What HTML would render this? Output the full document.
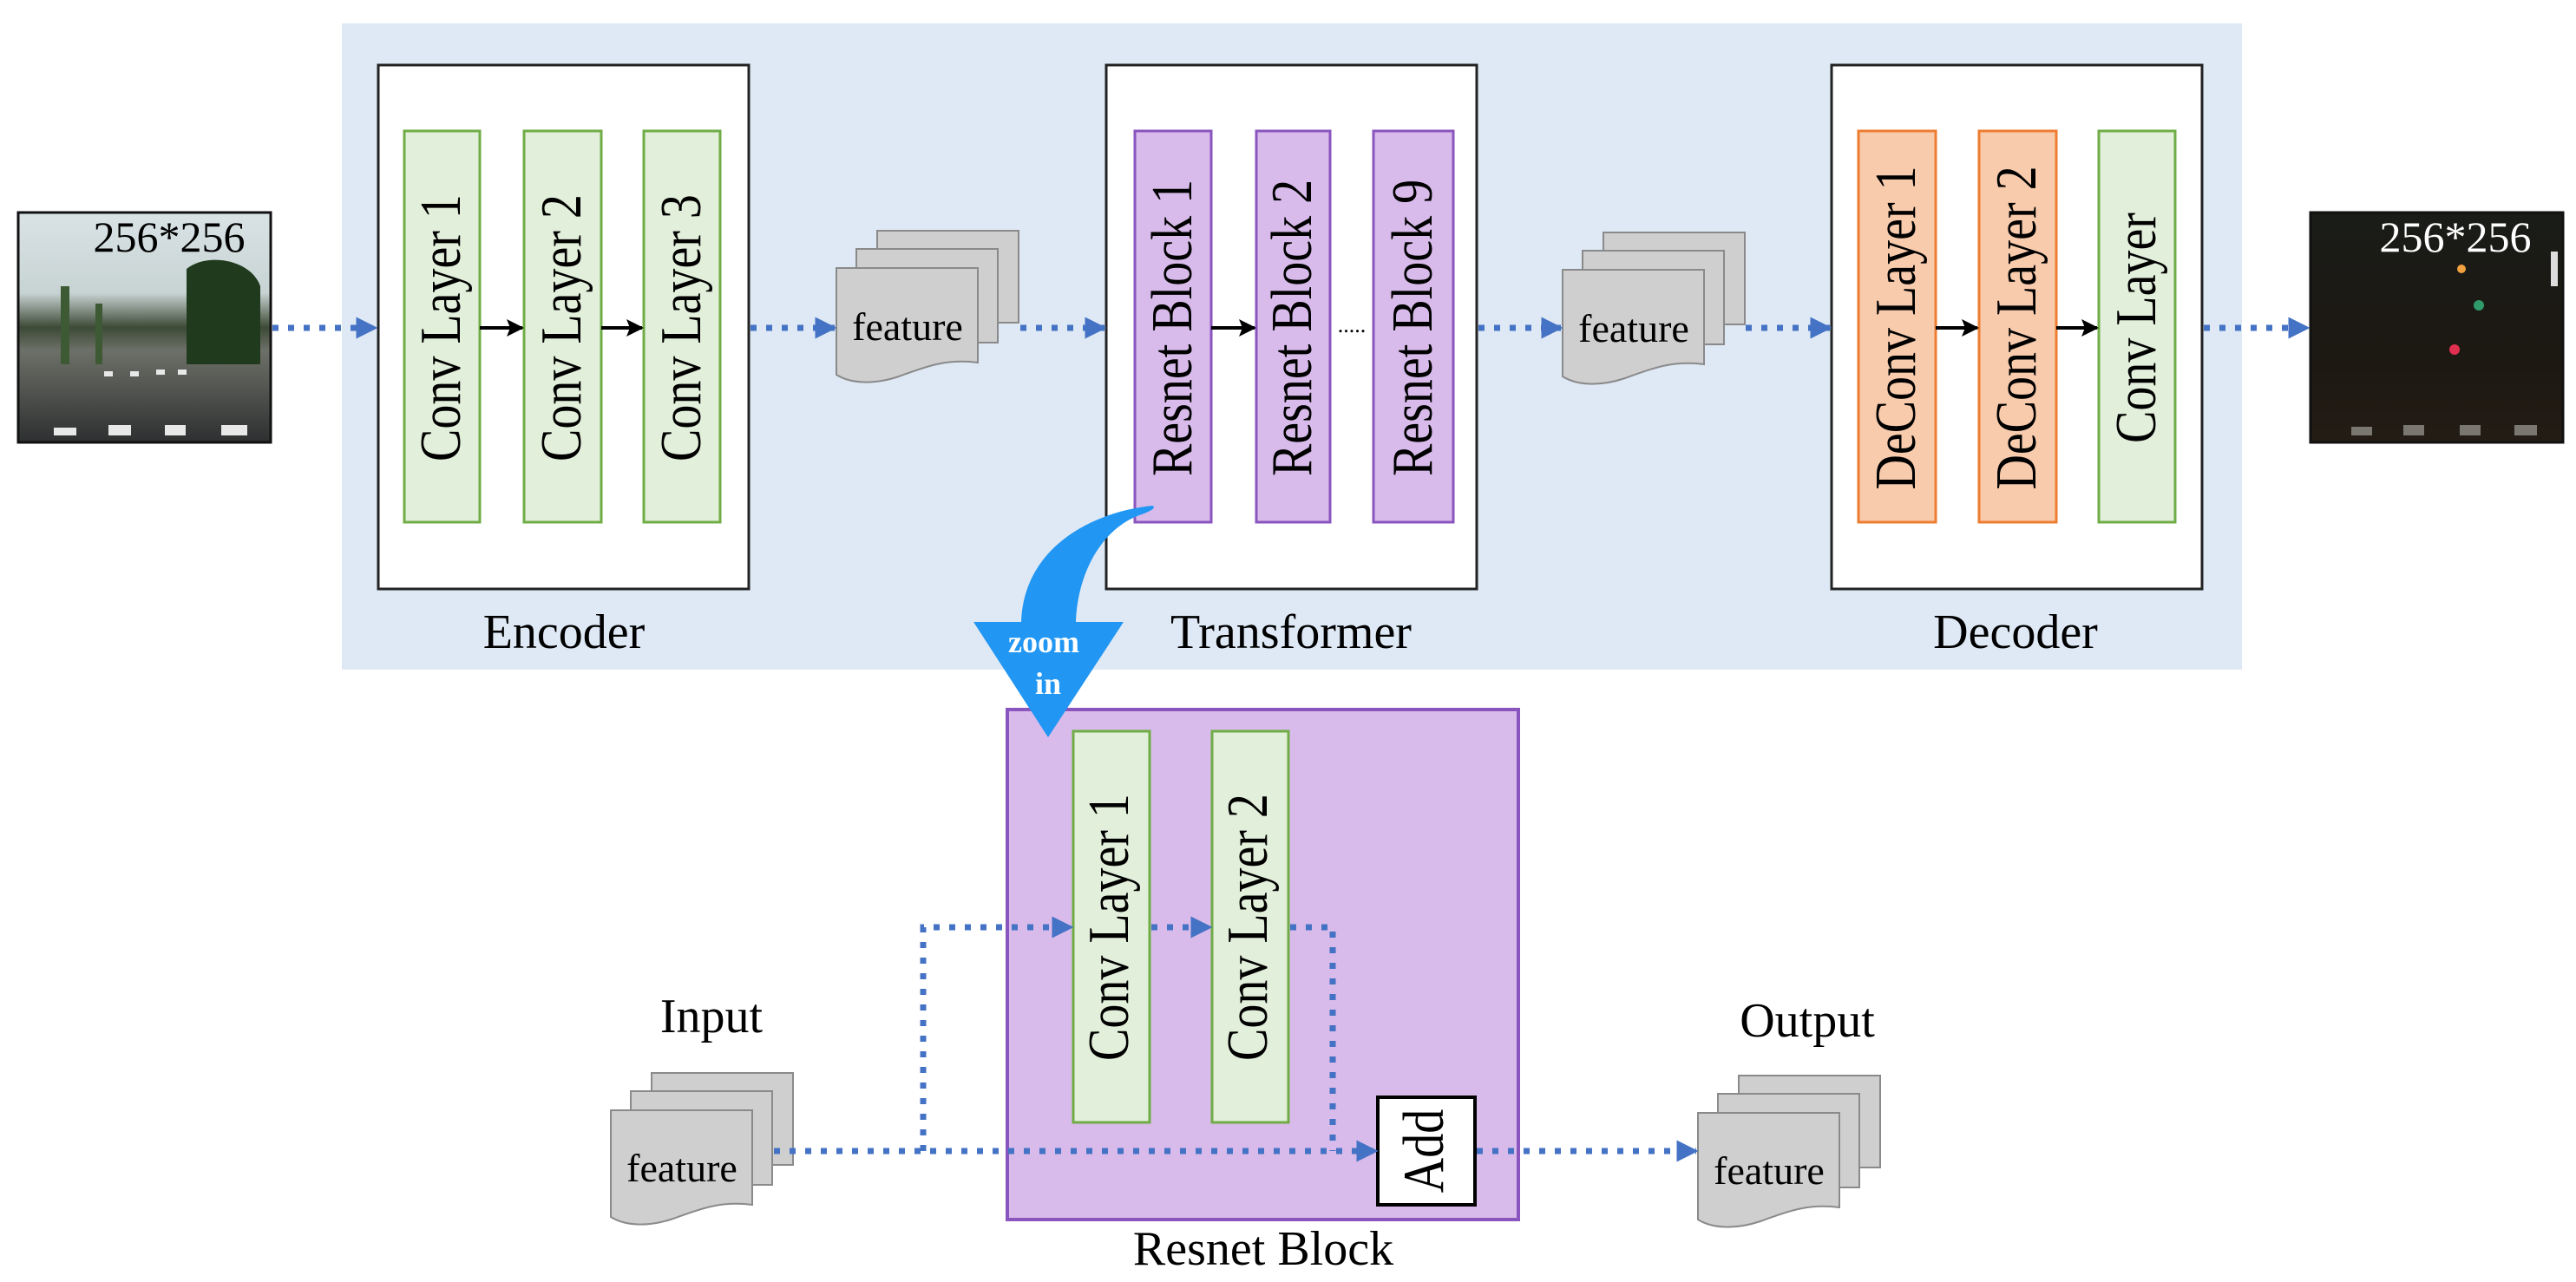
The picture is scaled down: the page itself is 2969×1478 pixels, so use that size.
<!DOCTYPE html>
<html><head><meta charset="utf-8"><style>
html,body{margin:0;padding:0;background:#fff;}
svg{display:block;}
text{font-family:"Liberation Serif",serif;}
</style></head><body>
<svg width="2969" height="1478" viewBox="0 0 2969 1478" xmlns="http://www.w3.org/2000/svg">
<defs>
<marker id="ab" viewBox="0 0 10 10" refX="9" refY="5" markerWidth="3.6" markerHeight="4.6" markerUnits="strokeWidth" orient="auto"><path d="M0,0 L10,5 L0,10 Z" fill="#4472C4"/></marker>
<marker id="ak" viewBox="0 0 10 10" refX="9" refY="5" markerWidth="5" markerHeight="5" markerUnits="strokeWidth" orient="auto"><path d="M0,0 L10,5 L0,10 L2,5 Z" fill="#000"/></marker>
<g id="fs">
<rect x="47" y="0" width="163" height="106" fill="#d0cfcf" stroke="#8a8a8a" stroke-width="2"/>
<rect x="23" y="21" width="163" height="108" fill="#d0cfcf" stroke="#8a8a8a" stroke-width="2"/>
<path d="M0,43 H163 V152 C125,147 100,158 72,168 C42,178 16,176 0,166 Z" fill="#d0cfcf" stroke="#8a8a8a" stroke-width="2"/>
</g>
<linearGradient id="day" x1="0" y1="0" x2="0" y2="1">
<stop offset="0" stop-color="#d9e3e6"/><stop offset="0.35" stop-color="#c8d3d3"/><stop offset="0.5" stop-color="#3d4a36"/><stop offset="0.6" stop-color="#6d7068"/><stop offset="1" stop-color="#2d2f30"/></linearGradient>
<linearGradient id="night" x1="0" y1="0" x2="0" y2="1">
<stop offset="0" stop-color="#1a1c18"/><stop offset="0.6" stop-color="#1c1812"/><stop offset="1" stop-color="#221c14"/></linearGradient>
</defs>

<rect x="394" y="27" width="2190" height="745" fill="#dee9f5"/>

<rect x="21" y="245" width="291" height="265" fill="url(#day)" stroke="#111" stroke-width="3"/>
<path d="M215,310 C240,290 290,300 300,330 L300,420 L215,420 Z" fill="#1f3a1c"/>
<path d="M70,330 h10 v90 h-10z M110,350 h8 v70 h-8z" fill="#3d5a34"/>
<g fill="#e8e8e8"><rect x="62" y="493" width="26" height="9"/><rect x="125" y="490" width="26" height="12"/><rect x="190" y="490" width="24" height="12"/><rect x="255" y="490" width="30" height="12"/>
<rect x="120" y="428" width="10" height="6"/><rect x="150" y="428" width="10" height="6"/><rect x="180" y="426" width="10" height="6"/><rect x="205" y="426" width="10" height="6"/></g>
<text x="195" y="290" font-size="50" text-anchor="middle" fill="#000">256*256</text>

<rect x="2663" y="245" width="291" height="265" fill="url(#night)" stroke="#111" stroke-width="3"/>
<circle cx="2837" cy="310" r="5" fill="#f2a040"/><circle cx="2857" cy="352" r="6" fill="#2f9b6a"/><circle cx="2829" cy="403" r="6" fill="#e03050"/>
<rect x="2940" y="290" width="8" height="40" fill="#ddd"/>
<g fill="#7a7670"><rect x="2710" y="492" width="24" height="10"/><rect x="2770" y="490" width="24" height="12"/><rect x="2835" y="490" width="24" height="12"/><rect x="2898" y="490" width="26" height="12"/></g>
<text x="2830" y="290" font-size="50" text-anchor="middle" fill="#fff">256*256</text>

<rect x="436" y="75" width="427" height="604" fill="#fff" stroke="#222" stroke-width="3"/>
<rect x="1275" y="75" width="427" height="604" fill="#fff" stroke="#222" stroke-width="3"/>
<rect x="2111" y="75" width="427" height="604" fill="#fff" stroke="#222" stroke-width="3"/>

<g stroke-width="3">
<rect x="466" y="151" width="87" height="451" fill="#e2efda" stroke="#70ad47"/>
<rect x="604" y="151" width="89" height="451" fill="#e2efda" stroke="#70ad47"/>
<rect x="742" y="151" width="88" height="451" fill="#e2efda" stroke="#70ad47"/>
<rect x="1308" y="151" width="88" height="451" fill="#d8bbea" stroke="#8a55bf"/>
<rect x="1448" y="151" width="85" height="451" fill="#d8bbea" stroke="#8a55bf"/>
<rect x="1583" y="151" width="92" height="451" fill="#d8bbea" stroke="#8a55bf"/>
<rect x="2142" y="151" width="89" height="451" fill="#f8cbad" stroke="#ed7d31"/>
<rect x="2281" y="151" width="89" height="451" fill="#f8cbad" stroke="#ed7d31"/>
<rect x="2419" y="151" width="88" height="451" fill="#e2efda" stroke="#70ad47"/>
</g>
<g font-size="56" fill="#000" text-anchor="middle">
<text transform="translate(530,378) rotate(-90) scale(1,1.2)">Conv Layer 1</text>
<text transform="translate(669,378) rotate(-90) scale(1,1.2)">Conv Layer 2</text>
<text transform="translate(807,378) rotate(-90) scale(1,1.2)">Conv Layer 3</text>
<text transform="translate(1373,378) rotate(-90) scale(1,1.2)">Resnet Block 1</text>
<text transform="translate(1511,378) rotate(-90) scale(1,1.2)">Resnet Block 2</text>
<text transform="translate(1650,378) rotate(-90) scale(1,1.2)">Resnet Block 9</text>
<text transform="translate(2207,378) rotate(-90) scale(1,1.2)">DeConv Layer 1</text>
<text transform="translate(2346,378) rotate(-90) scale(1,1.2)">DeConv Layer 2</text>
<text transform="translate(2484,378) rotate(-90) scale(1,1.2)">Conv Layer</text>
</g>
<text x="1558" y="383" font-size="26" text-anchor="middle">.....</text>

<g stroke="#000" stroke-width="4" marker-end="url(#ak)">
<line x1="553" y1="378" x2="602" y2="378"/><line x1="693" y1="378" x2="740" y2="378"/>
<line x1="1396" y1="378" x2="1446" y2="378"/>
<line x1="2231" y1="378" x2="2279" y2="378"/><line x1="2370" y1="378" x2="2417" y2="378"/>
</g>

<use href="#fs" x="964" y="266"/>
<use href="#fs" x="1801" y="268"/>
<use href="#fs" x="704" y="1237"/>
<use href="#fs" x="1957" y="1240"/>
<g font-size="46" text-anchor="middle">
<text x="1046" y="392">feature</text>
<text x="1883" y="394">feature</text>
<text x="786" y="1362">feature</text>
<text x="2039" y="1365">feature</text>
</g>

<g font-size="56" text-anchor="middle">
<text x="650" y="747">Encoder</text>
<text x="1488" y="747">Transformer</text>
<text x="2323" y="747">Decoder</text>
<text x="820" y="1190">Input</text>
<text x="2083" y="1195">Output</text>
<text x="1456" y="1458">Resnet Block</text>
</g>

<rect x="1161" y="818" width="589" height="588" fill="#d8bbea" stroke="#8a55bf" stroke-width="4"/>
<rect x="1237" y="843" width="88" height="451" fill="#e2efda" stroke="#70ad47" stroke-width="3"/>
<rect x="1397" y="843" width="88" height="451" fill="#e2efda" stroke="#70ad47" stroke-width="3"/>
<rect x="1588" y="1265" width="112" height="124" fill="#fff" stroke="#000" stroke-width="4"/>
<g font-size="56" text-anchor="middle">
<text transform="translate(1300,1069) rotate(-90) scale(1,1.2)">Conv Layer 1</text>
<text transform="translate(1460,1069) rotate(-90) scale(1,1.2)">Conv Layer 2</text>
<text transform="translate(1663,1327) rotate(-90) scale(1,1.2)">Add</text>
</g>

<g stroke="#4472C4" stroke-width="7" stroke-dasharray="7 11" fill="none">
<line x1="314" y1="378" x2="433" y2="378" marker-end="url(#ab)"/>
<line x1="865" y1="378" x2="962" y2="378" marker-end="url(#ab)"/>
<line x1="1176" y1="378" x2="1273" y2="378" marker-end="url(#ab)"/>
<line x1="1704" y1="378" x2="1799" y2="378" marker-end="url(#ab)"/>
<line x1="2012" y1="378" x2="2109" y2="378" marker-end="url(#ab)"/>
<line x1="2540" y1="378" x2="2660" y2="378" marker-end="url(#ab)"/>
<line x1="892" y1="1327" x2="1586" y2="1327" marker-end="url(#ab)"/>
<polyline points="1064,1327 1064,1069 1235,1069" marker-end="url(#ab)"/>
<line x1="1327" y1="1069" x2="1395" y2="1069" marker-end="url(#ab)"/>
<polyline points="1487,1069 1536,1069 1536,1327"/>
<line x1="1702" y1="1327" x2="1955" y2="1327" marker-end="url(#ab)"/>
</g>

<path d="M1328,583 C1260,590 1180,630 1177,717 L1122,717 L1208,850 L1295,717 L1240,717 C1242,660 1270,610 1313,594 C1325,590 1334,585 1328,583 Z" fill="#2196f3"/>
<g font-size="36" font-weight="bold" fill="#fff" text-anchor="middle">
<text x="1203" y="752">zoom</text>
<text x="1208" y="800">in</text>
</g>
</svg>
</body></html>
